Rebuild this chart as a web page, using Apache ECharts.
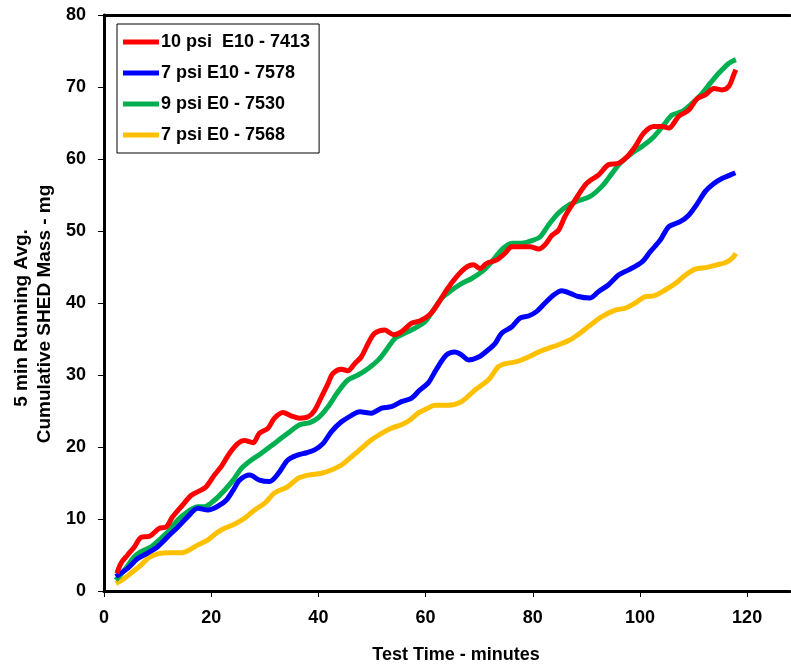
<!DOCTYPE html>
<html>
<head>
<meta charset="utf-8">
<script src="https://cdn.jsdelivr.net/npm/echarts@6/dist/echarts.min.js"></script>
<style>
  html, body { margin: 0; padding: 0; background: #fff; }
  #display { width: 791px; height: 669px; }
</style>
</head>
<body>
<div id="display"></div>
<script>
// series names (legend)
var names = ['10 psi  E10 - 7413', '7 psi E10 - 7578', '9 psi E0 - 7530', '7 psi E0 - 7568'];
var colors = ['#ff0000', '#0000ff', '#00b050', '#ffc000'];
var xTicks = [0, 20, 40, 60, 80, 100, 120];
var yTicks = [0, 10, 20, 30, 40, 50, 60, 70, 80];

// [minutes, mg]
var red = [[2.4,2.45],[3.2,3.9],[4.4,5.0],[5.7,6.15],[6.9,7.45],[8.5,7.6],[10.3,8.7],[11.6,8.9],[12.8,10.3],
  [14.4,11.7],[16.3,13.3],[18.1,14.0],[19.1,14.5],[20.6,16.1],[21.9,17.3],[23.4,19.1],[25.0,20.5],[26.2,20.9],
  [27.8,20.6],[29.0,21.9],[30.6,22.6],[31.8,24.0],[33.4,24.8],[35,24.3],[36.5,24.0],[38.1,24.2],[39.3,25.1],
  [40.6,27.0],[41.8,28.8],[42.7,30.2],[44.3,30.8],[45.5,30.6],[46.8,31.6],[48.0,32.5],[49.3,34.4],[50.5,35.8],
  [52.4,36.25],[54.0,35.6],[55.5,36.0],[57.4,37.2],[58.9,37.5],[60.8,38.4],[62.4,40.0],[63.9,41.8],[65.5,43.4],
  [67.3,44.8],[68.9,45.3],[70.2,44.8],[71.4,45.5],[73.3,46.0],[74.8,46.9],[76.1,47.8],[77.9,47.8],[79.5,47.8],
  [81.1,47.5],[82.3,48.1],[83.6,49.4],[84.8,50.1],[86.0,52.0],[87.3,53.6],[88.5,55.0],[89.8,56.4],[90.7,57.0],
  [92.3,57.8],[94.1,59.2],[96.0,59.4],[97.6,60.3],[99.1,61.7],[100.7,63.6],[102.6,64.5],[104.1,64.5],[105.4,64.3],
  [107.2,65.9],[109.1,66.8],[110.7,68.4],[112.2,68.9],[113.8,69.8],[115.3,69.6],[116.6,70.1],[117.5,71.7],[117.9,72.4]];

var blue = [[2.2,2.0],[4.4,3.15],[6.3,4.5],[8.2,5.3],[10.0,6.15],[11.9,7.55],[13.8,8.9],[15.6,10.3],[17.5,11.5],
  [19.4,11.25],[21.3,11.8],[22.8,12.6],[24.1,14.0],[25.3,15.4],[27.2,16.1],[29.0,15.4],[30.9,15.2],[32.5,16.3],
  [34.3,18.2],[36.2,18.9],[37.8,19.2],[39.3,19.6],[40.9,20.5],[42.4,22.1],[44.3,23.5],[46.2,24.4],[47.7,24.9],
  [49.9,24.7],[51.8,25.4],[53.6,25.6],[55.5,26.3],[57.4,26.8],[58.9,27.9],[60.5,28.9],[62.1,30.9],[63.9,32.8],
  [65.5,33.2],[66.7,32.8],[68.0,32.1],[69.9,32.5],[71.7,33.5],[73.0,34.4],[74.2,35.8],[76.1,36.7],[77.6,37.9],
  [79.2,38.2],[80.7,38.8],[82.3,40.0],[83.9,41.1],[85.4,41.7],[87.0,41.35],[88.5,40.9],[90.7,40.7],[92.3,41.6],
  [94.1,42.5],[96.0,43.9],[97.9,44.6],[100.4,45.7],[101.9,47.1],[103.8,48.75],[105.4,50.6],[107.5,51.3],
  [109.1,52.2],[110.7,53.8],[112.2,55.5],[113.8,56.6],[115.3,57.3],[116.9,57.8],[117.8,58.1]];

var green = [[2.2,1.5],[3.8,2.9],[5.7,4.8],[6.9,5.45],[8.8,6.15],[10.3,7.1],[11.9,8.2],[13.8,9.9],[15.6,11.0],
  [17.5,11.7],[18.7,11.7],[20.6,12.6],[22.5,14.0],[24.1,15.4],[25.6,17.0],[27.5,18.2],[29.3,19.1],[31.8,20.5],
  [34.3,21.9],[36.5,23.1],[38.4,23.4],[39.9,24.0],[41.8,25.6],[43.7,27.7],[45.5,29.3],[47.4,30.0],[49.3,30.9],
  [51.2,32.1],[52.7,33.5],[54.3,35.1],[56.1,35.8],[58.0,36.5],[59.9,37.4],[61.1,38.6],[63.0,40.65],[64.9,41.8],
  [66.7,42.7],[68.6,43.4],[70.5,44.35],[72.3,45.7],[74.2,47.4],[76.1,48.3],[77.9,48.3],[79.8,48.65],[81.4,49.2],
  [82.9,50.8],[84.8,52.5],[86.7,53.6],[88.5,54.2],[90.7,54.8],[92.9,56.2],[94.8,58.0],[96.3,59.4],[98.5,60.8],
  [100.7,61.9],[102.6,63.1],[104.4,64.7],[106.0,66.1],[107.9,66.6],[109.7,67.7],[111.6,69.1],[113.1,70.5],
  [114.7,71.9],[116.6,73.3],[117.9,73.8]];

var yellow = [[2.2,1.05],[3.8,1.75],[5.4,2.7],[6.9,3.6],[8.5,4.7],[10.3,5.2],[12.2,5.3],[14.4,5.3],[15.9,5.7],
  [17.5,6.4],[19.4,7.1],[20.9,8.0],[22.5,8.7],[24.4,9.3],[26.2,10.1],[28.1,11.25],[30.0,12.2],[31.8,13.6],
  [34.3,14.5],[36.2,15.65],[38.1,16.1],[40.6,16.35],[42.4,16.8],[44.3,17.5],[46.2,18.65],[48.0,19.8],[49.9,21.0],
  [51.8,21.9],[53.6,22.6],[55.5,23.1],[57.1,23.75],[58.6,24.7],[60.2,25.3],[61.7,25.8],[64.2,25.8],[66.7,26.3],
  [69.2,27.9],[71.7,29.3],[73.6,31.15],[75.1,31.6],[77.0,31.85],[79.2,32.5],[81.1,33.2],[82.9,33.7],[84.8,34.2],
  [87.0,34.9],[88.8,35.8],[90.7,36.9],[92.9,38.1],[95.4,39.0],[97.3,39.3],[99.1,40.0],[101.0,40.9],[102.6,41.0],
  [104.7,41.8],[106.6,42.7],[108.5,43.9],[110.3,44.7],[112.5,44.95],[114.4,45.3],[115.9,45.6],[117.2,46.2],
  [117.9,46.9]];

var allData = [red, blue, green, yellow];

var myDisplay = echarts.init(document.getElementById('display'));
var font = 'Liberation Sans, Arial, sans-serif';

var series = names.map(function (n, i) {
  return {
    name: n,
    type: 'line',
    data: allData[i],
    showSymbol: false,
    smooth: 0.3,
    lineStyle: { color: colors[i], width: 5 },
    itemStyle: { color: colors[i] },
    z: 10 - i
  };
});

var labelStyle = { fontFamily: font, fontWeight: 'bold', fontSize: 18, color: '#000' };

myDisplay.setOption({
  animation: false,
  backgroundColor: '#fff',
  // plot runs off the right edge of the picture, so no right border
  grid: { left: 104, top: 15, width: 686, height: 576 },
  legend: {
    orient: 'vertical',
    left: 117, top: 24,
    padding: [9, 9, 9, 6],
    itemGap: 13,
    itemWidth: 36, itemHeight: 5,
    icon: 'rect',
    borderColor: '#000', borderWidth: 1,
    backgroundColor: '#fff',
    textStyle: { fontFamily: font, fontWeight: 'bold', fontSize: 18, color: '#000', padding: [0, 0, 0, -3] },
    data: names
  },
  xAxis: [{
    type: 'value',
    min: 0, max: 128, interval: 20,
    axisLine: { lineStyle: { color: '#000', width: 3 } },
    axisTick: { show: true, length: 6, customValues: xTicks, lineStyle: { color: '#000', width: 1 } },
    splitLine: { show: false },
    axisLabel: Object.assign({ margin: 18, customValues: xTicks }, labelStyle)
  }, {
    // top frame line only
    type: 'value', position: 'top',
    min: 0, max: 128,
    axisLine: { show: true, lineStyle: { color: '#000', width: 3 } },
    axisTick: { show: false }, axisLabel: { show: false }, splitLine: { show: false }
  }],
  yAxis: {
    type: 'value',
    min: 0, max: 80, interval: 10,
    axisLine: { show: true, lineStyle: { color: '#000', width: 3 } },
    axisTick: { show: true, length: 6, lineStyle: { color: '#000', width: 1 } },
    splitLine: { show: false },
    axisLabel: Object.assign({
      margin: 18,
      formatter: function (v) { return yTicks.indexOf(v) >= 0 ? String(v) : ''; }
    }, labelStyle)
  },
  graphic: [
    {
      type: 'text', x: 456, y: 655,
      style: { text: 'Test Time - minutes', font: 'bold 18px ' + font, fill: '#000', align: 'center', verticalAlign: 'middle' }
    },
    {
      type: 'text', x: 22, y: 318, rotation: Math.PI / 2,
      style: { text: '5 min Running Avg.', font: 'bold 19px ' + font, fill: '#000', align: 'center', verticalAlign: 'middle' }
    },
    {
      type: 'text', x: 45, y: 314, rotation: Math.PI / 2,
      style: { text: 'Cumulative SHED Mass - mg', font: 'bold 19px ' + font, fill: '#000', align: 'center', verticalAlign: 'middle' }
    }
  ],
  series: series
});

//charts suits the screen
window.onresize = function () {
  myDisplay.resize();
};
</script>
</body>
</html>
